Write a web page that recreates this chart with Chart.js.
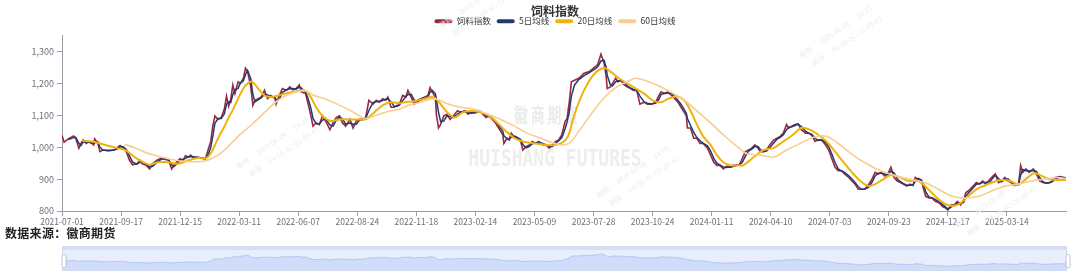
<!DOCTYPE html>
<html><head><meta charset="utf-8">
<script src="https://cdn.jsdelivr.net/npm/chart.js@4.4.1/dist/chart.umd.min.js"></script>
<style>
html,body{margin:0;padding:0;background:#fff;width:1080px;height:278px;overflow:hidden;}
#wrap{position:relative;width:1080px;height:278px;}
#main{position:absolute;left:0;top:0;}
#src{position:absolute;left:5px;top:224px;font:bold 12px "Noto Sans CJK SC",sans-serif;color:#222;line-height:18px;letter-spacing:0.3px;}
#mini{position:absolute;left:56px;top:244px;}
</style></head>
<body><div id="wrap">
<canvas id="main" width="1080" height="278"></canvas>
<div id="src">数据来源：徽商期货</div>
<canvas id="mini" width="1020" height="30"></canvas>
</div>
<script>
// trading-day index (0 = 2021-07-01) of each sample of the index series
const dayIdx = [
0,2,6,11,13,16,18,20,23,26, 30,31,34,36,39,44,49,52,55,58,
61,64,67,71,74,76,80,83,86,90, 94,97,101,104,106,109,112,115,117,120,
122,125,129,134,136,138,141,143,145,148, 151,154,156,158,160,162,164,167,169,172,
174,176,179,181,183,186,189,192,195,198, 202,203,206,209,213,216,219,222,225,227,
231,233,236,238,241,244,247,250,254,257, 260,263,266,269,273,276,279,282,285,288,
291,295,298,301,304,307,309,312,315,318, 320,323,326,328,331,334,337,340,344,347,
349,351,354,355,357,359,362,365,368,371, 375,378,382,385,388,392,396,399,402,405,
408,411,414,418,419,422,424,426,430,432, 435,437,440,443,446,449,452,456,459,462,
465,468,471,474,477,479,481,483,486,490, 495,500,504,508,511,514,516,517,520,522,
525,527,530,533,536,539,542,545,548,552, 555,559,563,566,568,572,574,578,581,584,
587,590,592,593,596,599,602,605,608,612, 615,618,621,624,627,630,634,637,640,642,
645,648,651,654,657,660,662,665,668,671, 675,678,681,684,687,689,692,695,698,701,
705,708,711,714,717,720,723,727,730,733, 736,739,742,746,749,752,755,758,761,765,
768,771,774,777,780,783,786,789,792,795, 798,801,804,807,809,812,815,817,819,822,
825,828,832,835,838,840,843,846,849,852, 855,857,861,864,867,870,873,876,880,883,
885,888,891,894,897,900,903,907,909,911, 914,917,921,924,927,930,933,936,939,942,
946,949,952];
const feedIndex = [
1037,1016,1026,1035,1028,997,1012,1023,1012,1018, 1007,1026,1012,986,991,988,991,998,1005,998,
986,959,945,948,959,948,943,932,948,959, 966,962,959,932,943,955,964,959,973,969,
975,966,969,964,964,986,1018,1066,1098,1087, 1093,1120,1160,1128,1150,1195,1168,1205,1200,1216,
1248,1237,1189,1131,1147,1152,1157,1178,1152,1162, 1152,1135,1162,1184,1178,1189,1180,1184,1195,1173,
1168,1141,1098,1066,1076,1071,1098,1082,1055,1076, 1093,1098,1076,1066,1087,1060,1082,1087,1087,1093,
1147,1135,1147,1141,1152,1147,1157,1125,1125,1131, 1135,1162,1157,1178,1157,1135,1147,1152,1157,1162,
1187,1173,1157,1103,1060,1071,1098,1103,1087,1098, 1114,1109,1114,1103,1109,1109,1114,1103,1093,1098,
1087,1076,1060,1039,1012,1028,1023,1044,1028,1028, 1018,991,1002,1007,1018,1012,1018,1007,1007,997,
1007,1018,1023,1039,1080,1090,1141,1205,1210,1216, 1232,1237,1248,1259,1291,1264,1221,1184,1189,1200,
1216,1205,1210,1195,1189,1184,1178,1178,1135,1141, 1135,1135,1141,1162,1173,1168,1173,1162,1152,1141,
1125,1109,1098,1060,1060,1028,1028,1012,1012,997, 975,953,943,943,932,940,937,943,945,943,
964,986,991,997,1007,997,986,986,991,1007, 1023,1028,1034,1044,1071,1060,1066,1071,1073,1055,
1044,1044,1037,1018,1023,1023,1012,991,964,937, 926,926,916,905,894,884,868,868,868,884,
900,921,916,921,910,916,937,905,894,889, 884,878,884,880,905,900,894,868,846,841,
841,830,825,814,809,803,819,819,830,819, 835,857,868,878,889,884,894,884,900,910,
916,889,894,905,894,889,880,884,943,921, 932,921,932,916,894,889,887,889,894,905,
908,905,902];
// 5-day average, read at the same trading days as the index
const ma5 = [
null,null,1024,1030,1031,1012,1005,1016,1017,1015, 1012,1014,1017,1000,990,990,990,994,1001,1001,
993,973,953,947,953,953,946,938,940,953, 962,964,961,946,939,948,959,962,965,970,
971,970,968,966,964,972,998,1035,1075,1090, 1090,1105,1135,1142,1140,1165,1180,1185,1200,1208,
1228,1240,1215,1165,1142,1148,1155,1166,1164,1158, 1157,1148,1150,1172,1180,1183,1184,1182,1188,1185,
1172,1156,1122,1090,1074,1073,1085,1088,1070,1066, 1084,1095,1088,1072,1076,1072,1072,1084,1087,1090,
1115,1140,1142,1144,1146,1150,1152,1142,1128,1128, 1132,1146,1158,1165,1166,1148,1142,1148,1154,1158,
1172,1178,1168,1150,1110,1080,1082,1098,1096,1093, 1104,1110,1112,1108,1106,1108,1111,1108,1099,1096,
1092,1082,1068,1050,1036,1026,1024,1032,1034,1030, 1024,1008,998,1002,1011,1014,1015,1012,1007,1002,
1002,1012,1020,1030,1058,1080,1110,1160,1195,1212, 1224,1234,1242,1252,1270,1272,1250,1225,1195,1192,
1205,1208,1208,1204,1192,1186,1181,1178,1160,1142, 1138,1135,1138,1150,1165,1170,1170,1168,1158,1147,
1134,1118,1106,1090,1068,1046,1030,1020,1012,1004, 988,965,950,944,938,936,938,940,943,944,
952,972,988,994,1002,1002,993,986,988,998, 1014,1025,1031,1039,1055,1062,1064,1068,1072,1065,
1050,1044,1040,1028,1021,1023,1018,1002,978,952, 932,926,921,910,900,889,876,868,868,875,
890,910,918,918,916,913,925,920,900,892, 886,881,881,882,892,902,897,882,860,844,
841,836,828,820,812,806,812,819,824,824, 827,846,862,873,884,886,889,889,892,905,
912,902,892,900,900,892,885,882,912,930, 926,926,926,924,905,892,888,888,892,900,
906,906,904];
const ma20Day = [19,31,41,52,60,69,77,83,91,101,110,120,129,137,142,148,154,159,161,167,
173,180,186,192,198,205,214,224,230,235,241,247,255,263,271,280,288,296,304,312,
320,325,334,344,351,356,364,372,380,388,397,405,413,421,429,437,447,459,467,473,
478,481,485,490,495,504,514,520,528,536,544,552,560,568,575,583,590,596,602,608,
615,621,627,634,642,646,656,665,675,684,693,701,709,717,725,733,741,749,757,765,
771,779,786,795,803,812,820,828,836,844,851,859,867,875,883,891,899,907,914,922,
929,936,944,952];
const ma20 = [1021,1016,1007,997,991,969,953,945,953,953,948,959,966,966,986,1028,1065,1100,1110,1152,
1189,1205,1184,1162,1157,1162,1170,1176,1178,1162,1125,1098,1082,1087,1087,1087,1087,1109,1131,1141,
1138,1141,1144,1152,1157,1147,1114,1093,1109,1114,1109,1098,1076,1050,1028,1018,1012,1007,1007,1012,
1025,1044,1093,1140,1178,1227,1248,1237,1216,1200,1184,1168,1147,1141,1152,1159,1147,1114,1071,1034,
1007,975,953,943,943,943,969,991,998,1018,1039,1060,1055,1039,1018,986,953,921,894,878,
884,900,913,905,894,894,873,846,825,816,822,846,868,880,891,897,894,884,900,919,
910,900,897,897];
const ma60Day = [59,69,82,94,107,120,132,138,148,154,159,167,180,192,205,217,230,239,249,261,
274,287,296,309,320,328,340,353,366,378,391,404,416,429,441,454,467,473,481,488,
501,514,526,539,544,552,564,577,590,602,615,627,642,649,662,675,687,700,713,725,
738,750,763,776,788,803,818,831,844,856,869,881,894,907,919,932,944,952];
const ma60 = [1009,998,980,969,959,955,955,959,975,991,1007,1034,1071,1109,1147,1168,1178,1162,1152,1135,
1114,1090,1098,1112,1119,1131,1141,1152,1135,1125,1119,1103,1087,1066,1044,1028,1012,1007,1012,1040,
1100,1155,1189,1210,1216,1210,1195,1173,1147,1114,1076,1039,997,980,975,969,991,1012,1031,1034,
1007,975,948,926,913,900,889,868,846,841,846,862,878,884,894,900,905,902];
const lastDay = 952;
const tickDays = [0,56,112,168,224,280,336,392,448,504,560,616,672,728,784,840,896];
const tickLabels = ['2021-07-01','2021-09-17','2021-12-15','2022-03-11','2022-06-07','2022-08-24','2022-11-18','2023-02-14','2023-05-09','2023-07-28','2023-10-24','2024-01-11','2024-04-10','2024-07-03','2024-09-23','2024-12-17','2025-03-14'];
const yTicks = [800,900,1000,1100,1200,1300];
const seriesNames = ['饲料指数','5日均线','20日均线','60日均线'];

const pts = (xs, ys) => xs.map((x, i) => ({x: x, y: ys[i]}));
const FONT = '"Noto Sans CJK SC","Noto Sans",sans-serif';
Chart.defaults.font.family = FONT;
const COL = {red:'#9c2840', navy:'#1f3b70', gold:'#f0b20c', light:'#f8cd8e', axis:'#9a9ea8', label:'#6e7079'};

const watermark = {
  id: 'wm',
  beforeDatasetsDraw(chart) {
    const ctx = chart.ctx;
    ctx.save();
    ctx.textAlign = 'center'; ctx.textBaseline = 'middle';
    ctx.fillStyle = '#ebebeb';
    ctx.font = 'bold 14px ' + FONT;
    const cn = '徽商期货';
    for (let i = 0; i < cn.length; i++) {
      ctx.save(); ctx.translate(521 + i * 16.7, 115); ctx.scale(1, 1.45);
      ctx.fillText(cn[i], 0, 0); ctx.restore();
    }
    ctx.fillStyle = '#eeeeee';
    ctx.save(); ctx.translate(555, 160); ctx.scale(1, 1.3);
    ctx.font = 'bold 18px "DejaVu Sans Mono"';
    ctx.fillText('HUISHANG FUTURES', 0, 0); ctx.restore();
    ctx.fillStyle = '#ececec';
    ctx.font = '7px ' + FONT;
    ctx.textAlign = 'left';
    [[237,167],[597,196],[955,226],[440,26],[800,56]].forEach(p => {
      ctx.save(); ctx.translate(p[0], p[1]); ctx.rotate(-0.6);
      ctx.fillText('徽商      2025-06-09      14:25', 0, 0);
      ctx.fillText('期货      F4-08-8C-02-89-41', 6, 14);
      ctx.restore();
    });
    ctx.restore();
  }
};

new Chart(document.getElementById('main'), {
  type: 'line',
  data: {
    datasets: [
      {label: seriesNames[0], data: pts(dayIdx, feedIndex), borderColor: COL.red, backgroundColor: COL.red, borderWidth: 1.6, pointRadius: 0, tension: 0, order: 4},
      {label: seriesNames[1], data: pts(dayIdx, ma5), borderColor: COL.navy, backgroundColor: COL.navy, borderWidth: 1.5, pointRadius: 0, tension: 0, spanGaps: true, order: 3},
      {label: seriesNames[2], data: pts(ma20Day, ma20), borderColor: COL.gold, backgroundColor: COL.gold, borderWidth: 2, pointRadius: 0, tension: 0.3, order: 2},
      {label: seriesNames[3], data: pts(ma60Day, ma60), borderColor: COL.light, backgroundColor: COL.light, borderWidth: 1.6, pointRadius: 0, tension: 0.3, order: 1}
    ]
  },
  options: {
    responsive: false, animation: false, events: [],
    layout: {padding: {left: 30, right: 0, top: 2, bottom: 47}},
    plugins: {
      tooltip: {enabled: false},
      title: {display: false},
      legend: {
        display: true, position: 'top', align: 'center',
        title: {display: true, text: '饲料指数', color: '#333', font: {size: 12, weight: 'bold', lineHeight: 1}, padding: {top: 3, bottom: -6}},
        labels: {
          boxWidth: 18, boxHeight: 4, useBorderRadius: true, borderRadius: 2, padding: 6,
          color: '#333', font: {size: 8.5},
          sort: (a, b) => a.datasetIndex - b.datasetIndex,
          generateLabels: (chart) => Chart.defaults.plugins.legend.labels.generateLabels(chart).map(l => Object.assign(l, {lineWidth: 0}))
        }
      }
    },
    scales: {
      x: {
        type: 'linear', min: 0, max: lastDay,
        afterBuildTicks: s => { s.ticks = tickDays.map(v => ({value: v})); },
        afterFit: s => { s.height = 20; },
        grid: {display: true, drawOnChartArea: false, drawTicks: true, tickLength: 5, color: COL.axis},
        border: {display: true, color: COL.axis},
        ticks: {autoSkip: false, maxRotation: 0, minRotation: 0, padding: 1, color: COL.label, font: {size: 8.5},
          callback: (v, i) => tickLabels[i]}
      },
      y: {
        position: 'left', min: 800, max: 1350,
        afterBuildTicks: s => { s.ticks = yTicks.map(v => ({value: v})); },
        afterFit: s => { s.width = 32; },
        grid: {display: true, drawOnChartArea: false, drawTicks: true, tickLength: 5, color: COL.axis},
        border: {display: true, color: COL.axis},
        ticks: {padding: 3, color: COL.label, font: {size: 9}}
      },
      spacer: {
        position: 'right', display: true, min: 0, max: 1,
        afterFit: s => { s.width = 14; },
        grid: {display: false}, border: {display: false}, ticks: {display: false}
      }
    }
  },
  plugins: [watermark]
});

// data-zoom style overview strip
const sliderFrame = {
  id: 'sliderFrame',
  beforeDatasetsDraw(chart) {
    const {ctx, chartArea: a} = chart;
    ctx.save();
    ctx.fillStyle = '#e8eefb';
    ctx.fillRect(a.left, a.top, a.right - a.left + 1, a.bottom - a.top);
    ctx.fillStyle = 'rgba(200,212,238,0.55)';
    ctx.fillRect(a.left, a.top, a.right - a.left + 1, 4);
    ctx.restore();
  },
  afterDraw(chart) {
    const {ctx, chartArea: a} = chart;
    ctx.save();
    ctx.strokeStyle = '#d2dbee'; ctx.lineWidth = 1;
    ctx.strokeRect(a.left + 0.5, a.top + 0.5, a.right - a.left, a.bottom - a.top - 1);
    [a.left + 2, a.right + 2].forEach(x => {
      ctx.beginPath();
      ctx.roundRect(x - 2, a.top + 8.5, 4, 13, 1.5);
      ctx.fillStyle = '#ffffff'; ctx.fill();
      ctx.strokeStyle = '#aab6cf'; ctx.lineWidth = 0.8; ctx.stroke();
    });
    ctx.restore();
  }
};
new Chart(document.getElementById('mini'), {
  type: 'line',
  data: {datasets: [{data: pts(dayIdx, feedIndex), borderColor: '#aac0ee', borderWidth: 0.8, pointRadius: 0,
    fill: 'start', backgroundColor: 'rgba(143,176,247,0.28)'}]},
  options: {
    responsive: false, animation: false, events: [],
    layout: {padding: {left: 6, right: 10, top: 2, bottom: 3}},
    plugins: {legend: {display: false}, tooltip: {enabled: false}},
    scales: {x: {type: 'linear', min: 0, max: lastDay, display: false}, y: {min: 622, max: 1606, display: false}}
  },
  plugins: [sliderFrame]
});
</script>
</body></html>
